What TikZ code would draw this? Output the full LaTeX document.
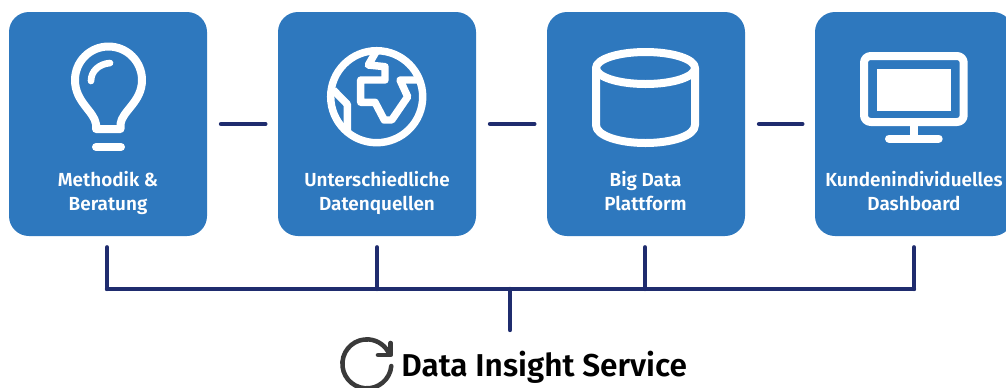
\documentclass[tikz,border=0pt]{standalone}
\usepackage{fontspec}
\setmainfont{Fira Sans}
\newfontfamily\labfont{Fira Sans SemiBold}
\usetikzlibrary{calc}
\definecolor{boxblue}{HTML}{2E78BE}
\definecolor{navy}{HTML}{1F2C6E}
\definecolor{darkgrey}{HTML}{3A3A3A}
\tikzset{
  card/.style={fill=boxblue,draw=none,rounded corners=15pt,minimum width=148.5pt,minimum height=168pt,inner sep=0pt,outer sep=0pt,anchor=north west},
  cardtext/.style={text=white,font=\labfont\fontsize{14.2}{18}\selectfont,align=center,inner sep=0pt},
  link/.style={draw=navy,line width=3.3pt,line cap=round},
  icon/.style={draw=white,line width=6pt,line join=round},
  thin icon/.style={draw=white,line width=5.5pt,line join=round,line cap=round},
  title/.style={text=black,font=\labfont\fontsize{23.7}{26}\selectfont,inner sep=0pt,anchor=west},
}
\begin{document}
\begin{tikzpicture}[x=0.75pt,y=-0.75pt]
\useasboundingbox (0,0) rectangle (1006,387);
\clip (0,0) rectangle (1006,387);
\node[card] (b1) at (9,12) {};
\node[card] (b2) at (278,12) {};
\node[card] (b3) at (547,12) {};
\node[card] (b4) at (815,12) {};
\node[cardtext] (t1) at (108,194) {\strut Methodik \&\\Beratung\strut};
\node[cardtext] (t2) at (377,194) {\strut Unterschiedliche\\Datenquellen\strut};
\node[cardtext] (t3) at (645.5,194) {\strut Big Data\\Plattform\strut};
\node[cardtext] (t4) at (914,194) {\strut Kundenindividuelles\\Dashboard\strut};
% horizontal links
\foreach \a/\b in {b1/b2,b2/b3,b3/b4}
  \draw[link,shorten <=10.5pt,shorten >=9.5pt] (\a.east |- 0,124) -- (\b.west |- 0,124);
% bus
\coordinate (busl) at (107,289);
\coordinate (busr) at (914,289);
\coordinate (busm) at (510,289);
\coordinate (foot) at (510,330);
\draw[link] (busl) -- (busr);
\draw[link] (busm) -- (foot);
\foreach \a/\x in {b1/107,b2/377,b3/645,b4/914}
  \draw[link,shorten <=8.5pt] (\x,236) -- (\x,289);
% bulb
\draw[icon] (96,129) -- (96,124) .. controls (94,111) and (75,102) .. (75,80)
  arc[start angle=180,end angle=0,x radius=33.5,y radius=-33.5]
  .. controls (142,102) and (122,111) .. (120.5,124) -- (120.5,129) -- cycle;
\draw[thin icon,line width=6pt] (96,147) -- (121,147);
\draw[thin icon,line width=5pt] (91,81) .. controls (91,71) and (99,64) .. (110,63);
% globe
\draw[thin icon,line width=5.6pt] (376.7,96.7) circle[radius=46];
\begin{scope}
\clip (376.7,96.7) circle[radius=46];
\draw[thin icon,line width=5.6pt,line cap=butt]
  (377,50) -- (368.3,65) -- (385,66.7) -- (385,80) -- (360.7,80) -- (360.7,102.3) -- (375,102.3) -- (384.3,120) -- (391.7,120) -- (407.7,96.7) -- (400,80) -- (425,80);
\draw[thin icon,line width=5.6pt,line cap=butt]
  (333.3,90) -- (347.3,104.3) -- (347.3,135);
\end{scope}
% cylinder
\draw[icon] (645.5,68) ellipse[x radius=49.5,y radius=16];
\draw[icon,line cap=butt] (596,68) -- (596,125) .. controls (596,136) and (620,143) .. (645.5,143)
  .. controls (671,143) and (695,136) .. (695,125) -- (695,68);
% monitor
\draw[icon,rounded corners=5pt] (864,122) -- (864,56) -- (963.7,56) -- (963.7,122) -- cycle;
\fill[white] (876.7,69.3) rectangle (951,110.7);
\draw[white,line width=6pt] (914,126) -- (914,138);
\draw[thin icon,line width=6pt] (889,138.5) -- (938.7,138.5);
% refresh
\draw[draw=darkgrey,line width=3.4pt,line cap=round,line join=round]
  (391.3,366) arc[start angle=5,end angle=338,radius=24.5];
\draw[draw=darkgrey,line width=3.4pt,line cap=round,line join=round]
  (390.7,343) -- (390.7,355) -- (378,355);
\node[title] (title) at (401,367.5) {Data Insight Service};
\end{tikzpicture}
\end{document}
